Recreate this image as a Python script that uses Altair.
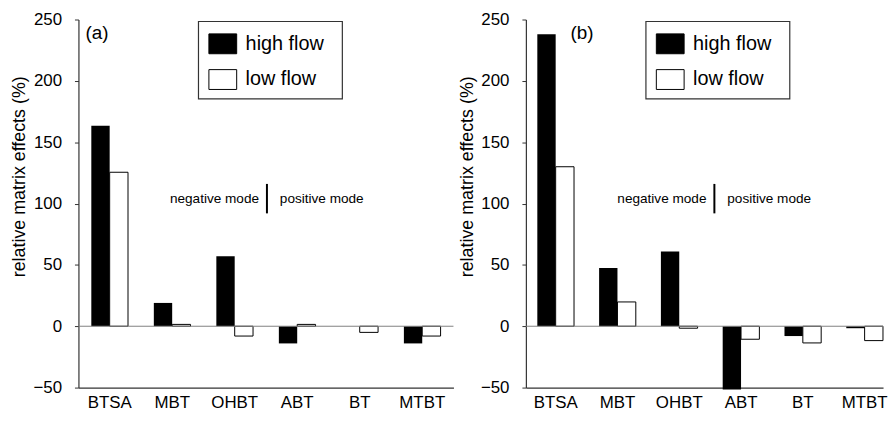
import altair as alt
import pandas as pd

categories = ["BTSA", "MBT", "OHBT", "ABT", "BT", "MTBT"]
flows = ["high flow", "low flow"]

a_high = [163.5, 19.0, 57.0, -14.0, 0.0, -14.0]
a_low = [125.5, 1.5, -8.0, 1.5, -5.0, -8.0]

b_high = [238.0, 47.5, 61.0, -51.5, -8.0, -1.6]
b_low = [130.0, 19.8, -1.6, -10.6, -13.6, -11.7]

y_ticks = [-50, 0, 50, 100, 150, 200, 250]
mode_line = [92, 116]
mode_text_y = [104]

FONT = "Liberation Sans"
HEIGHT = 371

y_scale = alt.Scale(domain=[-50, 250], nice=False, zero=False)
y_axis = alt.Axis(values=y_ticks, title="relative matrix effects (%)",
                  grid=False, tickSize=4, labelPadding=13,
                  labelFontSize=17, labelColor="black",
                  domainColor="#333333", tickColor="#333333",
                  domainWidth=1.2, titleLimit=1000,
                  titleFontSize=18, titleFontWeight="normal",
                  titleColor="black", titleX=-50, titleY=158,
                  titleAngle=270, titleAlign="center",
                  titleBaseline="bottom")


def panel(high, low, tag, tag_x, width, xscale):
    df = pd.DataFrame({
        "compound": categories * 2,
        "flow": [flows[0]] * len(categories) + [flows[1]] * len(categories),
        "value": high + low,
    })
    one = pd.DataFrame({"k": [0]})
    frame = alt.Chart(one).mark_rect(fill="white", stroke="#333333", strokeWidth=1.2).encode(
        x=alt.value(121), x2=alt.value(266), y=alt.value(2), y2=alt.value(80)
    )
    bars = alt.Chart(df).mark_bar(stroke="black", strokeWidth=1).encode(
        x=alt.X("compound:N", sort=categories, scale=xscale,
                axis=alt.Axis(title=None, labelAngle=0, ticks=False, tickSize=0,
                              labelPadding=7,
                              labelFontSize=17, labelColor="black",
                              domainColor="#333333", domainWidth=1.2)),
        xOffset=alt.XOffset("flow:N", sort=flows,
                            scale=alt.Scale(paddingInner=0, paddingOuter=0)),
        y=alt.Y("value:Q", scale=y_scale, axis=y_axis),
        fill=alt.Fill("flow:N", sort=flows,
                      scale=alt.Scale(domain=flows, range=["black", "white"]),
                      legend=alt.Legend(
                          title=None, orient="none", legendX=135, legendY=14,
                          padding=0,
                          symbolType="M-1.4,-1H1.4V1H-1.4Z", symbolSize=400,
                          symbolStrokeColor="black", symbolStrokeWidth=1,
                          labelFontSize=20, labelColor="black", labelFont=FONT,
                          labelOffset=12.5, rowPadding=11)),
        strokeOpacity=alt.condition("datum.flow == 'high flow'", alt.value(0), alt.value(1)),
    )
    zero = alt.Chart(pd.DataFrame({"z": [0]})).mark_rule(color="#808080", strokeWidth=1).encode(
        y=alt.Y("z:Q", scale=y_scale, axis=y_axis)
    )
    line = alt.Chart(pd.DataFrame({"y1": [mode_line[0]], "y2": [mode_line[1]]})).mark_rule(
        color="black", strokeWidth=2
    ).encode(x=alt.value(190), y=alt.Y("y1:Q", scale=y_scale, axis=y_axis), y2="y2:Q")
    tdf = pd.DataFrame({"y": mode_text_y})
    neg = alt.Chart(tdf).mark_text(align="right", baseline="middle", fontSize=13.7,
                                   font=FONT, color="black").encode(
        x=alt.value(182), y=alt.Y("y:Q", scale=y_scale, axis=y_axis),
        text=alt.value("negative mode"))
    pos = alt.Chart(tdf).mark_text(align="left", baseline="middle", fontSize=13.7,
                                   font=FONT, color="black").encode(
        x=alt.value(203), y=alt.Y("y:Q", scale=y_scale, axis=y_axis),
        text=alt.value("positive mode"))
    lab = alt.Chart(tdf).mark_text(align="left", baseline="middle", fontSize=19,
                                   font=FONT, color="black").encode(
        x=alt.value(tag_x), y=alt.value(14), text=alt.value(tag))
    return alt.layer(frame, bars, zero, line, neg, pos, lab).properties(
        width=width, height=HEIGHT)


chart = alt.hconcat(
    panel(a_high, a_low, "(a)", 7, 378,
          alt.Scale(paddingInner=0.413, paddingOuter=0.206)),
    panel(b_high, b_low, "(b)", 45, 360,
          alt.Scale(paddingInner=0.405, paddingOuter=0.0926, align=1)),
    spacing=4,
).resolve_scale(fill="independent").resolve_legend(fill="independent").properties(
    padding={"left": 3, "top": 1, "right": 0, "bottom": 0}
).configure(font=FONT).configure_view(stroke=None)

chart.save("out.html", embed_options={"renderer": "svg", "actions": False})
